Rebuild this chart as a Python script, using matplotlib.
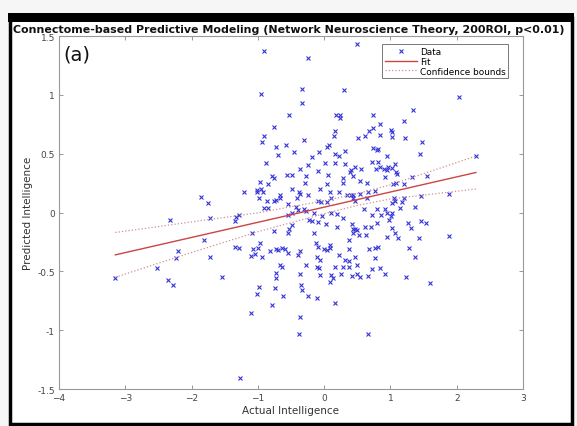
import matplotlib
matplotlib.use("Agg")
import matplotlib.pyplot as plt
from matplotlib.patches import Rectangle

# ---- data ----
data_x = [0.49, -0.90, -0.25, -0.95, -0.34, 0.30, -0.34, -0.53, 0.18, 0.24, 0.24, 0.73,
          -0.75, 0.16, 0.15, -0.90, -0.94, -0.30, -0.73, -0.58, 0.05, 0.07, 0.51, 0.61,
          0.67, 0.73, -0.70, -0.45, -0.08, -0.18, 0.16, 0.23, 0.32, 0.73, 0.79,
          2.04, 1.34, 1.20, 0.84, 1.01, 1.03, 0.85, 1.03, 1.22, 1.47, 0.81, 0.95, 1.44, 2.29,
          -1.86, -1.75, -2.32, -1.72, -1.82, -2.21, -2.23, -1.72, -2.52, -3.15, -2.36, -1.54, -2.28,
          -0.87, -0.36, -0.25, 0.02, -0.09, 0.16, 0.31, 0.46, 0.39, 0.41, 0.56, 0.72,
          -0.79, -0.76, -0.56, -0.48, -0.28, 0.06, 0.44, -0.97, -0.85, -0.29, 0.04, 0.28,
          0.29, 0.54, 0.65, -1.21, -1.01, -0.95, -0.92, -1.01, -0.67, -0.48, -0.38, -0.36,
          -0.25, -0.06, 0.09, 0.22, 0.34, 0.41, 0.44, 0.54, 0.66, 0.76, -0.98, -0.86,
          -0.76, -0.72, -0.66, -0.41, -0.09, -0.05, 0.05, 0.11, 0.43, 0.46, 0.65, -0.54,
          -0.43, -0.39, -0.90, -0.84, -0.30, -0.27, -0.49, -0.16, 0.11, 0.19, 0.28, 0.60,
          -1.29, -1.33, -1.35, -0.55, -0.23, -0.19, -0.10, 0.03, -0.03, 0.42, 0.47, 0.43,
          0.50, 0.44, 0.62, 0.70, 0.19, -0.75, -0.53, -0.55, -0.49, -1.09, -0.15, 0.37,
          0.53, 0.63, -0.97, -0.12, -0.10, 0.09, -1.34, -1.29, -1.08, -1.00, -0.82, -0.72,
          -0.69, -0.63, -0.59, -0.55, -0.36, 0.00, 0.04, 0.09, 0.37, 0.67, 0.76, -1.11,
          -1.04, -0.93, -0.40, -0.11, -0.07, 0.22, 0.32, 0.37, 0.46, 0.77, -0.66, -0.63,
          -0.27, -0.11, -0.08, 0.16, 0.29, 0.38, 0.49, -0.36, -0.72, -0.07, 0.11, 0.26,
          0.50, 0.54, 0.72,
          -0.73, -0.74, 0.14, 0.09, 0.42, 0.66, -0.99, -1.02, -0.35, -0.34, -0.62, -0.25,
          -0.11, -0.79, 0.16, -1.10, -0.37, -0.38, 0.66, -1.27,
          0.92, 1.23, 1.60,
          0.82, 0.78, 0.84, 0.90, 0.97, 1.02, 1.07, 0.95, 1.09, 1.10, 0.92, 1.33, 1.55,
          1.04, 1.09, 1.20, 1.46, 1.89, 1.05, 1.20, 1.02, 1.17, 1.07, 1.37, 1.15, 0.79,
          0.92, 0.72, 0.86, 0.95, 1.02, 1.01, 0.98, 0.79, 1.26, 1.31, 1.46, 1.53, 1.02,
          1.07, 1.12, 0.95, 1.43, 1.89, 0.82, 1.28, 1.37, 0.84]
data_y = [1.43, 1.37, 1.31, 1.01, 1.05, 1.04, 0.93, 0.83, 0.83, 0.83, 0.80, 0.83,
          0.73, 0.69, 0.65, 0.65, 0.60, 0.62, 0.56, 0.57, 0.56, 0.57, 0.63, 0.65,
          0.69, 0.72, 0.49, 0.51, 0.51, 0.47, 0.50, 0.48, 0.52, 0.55, 0.53,
          0.98, 0.87, 0.78, 0.75, 0.70, 0.68, 0.66, 0.64, 0.63, 0.60, 0.54, 0.48, 0.50, 0.48,
          0.13, 0.08, -0.06, -0.05, -0.23, -0.33, -0.39, -0.38, -0.47, -0.56, -0.57, -0.55, -0.62,
          0.42, 0.37, 0.40, 0.42, 0.35, 0.42, 0.41, 0.39, 0.34, 0.36, 0.37, 0.43,
          0.31, 0.29, 0.32, 0.32, 0.31, 0.32, 0.31, 0.26, 0.24, 0.25, 0.24, 0.25,
          0.29, 0.27, 0.25, 0.17, 0.19, 0.20, 0.17, 0.17, 0.15, 0.20, 0.17, 0.16,
          0.15, 0.20, 0.17, 0.17, 0.15, 0.15, 0.15, 0.16, 0.17, 0.18, 0.12, 0.10,
          0.10, 0.11, 0.12, 0.12, 0.10, 0.09, 0.09, 0.12, 0.12, 0.10, 0.12, 0.07,
          0.05, 0.02, 0.04, 0.04, 0.03, 0.01, 0.00, 0.00, 0.00, -0.01, -0.05, 0.03,
          -0.02, -0.04, -0.07, -0.02, -0.06, -0.07, -0.08, -0.10, -0.03, -0.10, -0.14, -0.14,
          -0.15, -0.17, -0.12, -0.12, -0.12, -0.16, -0.14, -0.17, -0.11, -0.17, -0.17, -0.23,
          -0.19, -0.19, -0.26, -0.26, -0.29, -0.28, -0.29, -0.30, -0.31, -0.30, -0.33, -0.31,
          -0.32, -0.30, -0.31, -0.34, -0.33, -0.31, -0.32, -0.30, -0.31, -0.31, -0.30, -0.37,
          -0.35, -0.38, -0.36, -0.38, -0.40, -0.36, -0.40, -0.41, -0.38, -0.39, -0.45, -0.46,
          -0.45, -0.46, -0.47, -0.46, -0.46, -0.46, -0.45, -0.52, -0.51, -0.53, -0.53, -0.52,
          -0.52, -0.55, -0.48,
          -0.56, -0.64, -0.56, -0.59, -0.54, -0.54, -0.63, -0.69, -0.62, -0.66, -0.71, -0.71,
          -0.73, -0.79, -0.77, -0.85, -0.89, -1.03, -1.03, -1.41,
          -0.52, -0.55, -0.60,
          0.43, 0.37, 0.39, 0.37, 0.39, 0.38, 0.41, 0.36, 0.34, 0.33, 0.30, 0.30, 0.31,
          0.24, 0.25, 0.24, 0.14, 0.16, 0.12, 0.12, 0.08, 0.09, 0.10, 0.05, 0.04, 0.03,
          0.03, -0.02, -0.02, 0.00, 0.00, -0.03, -0.06, -0.09, -0.09, -0.13, -0.07, -0.09, -0.13,
          -0.17, -0.22, -0.21, -0.22, -0.20, -0.29, -0.30, -0.38, -0.47]

fit_x = [-3.15, 2.29]
fit_y = [-0.36, 0.34]

bounds_x = [-3.15, -2.0, -1.0, 0.0, 0.5, 1.0, 2.29]
upper_y = [-0.17, -0.08, -0.003, 0.10, 0.16, 0.235, 0.48]
lower_y = [-0.55, -0.34, -0.163, -0.01, 0.06, 0.115, 0.20]

x_ticks = [-4, -3, -2, -1, 0, 1, 2, 3]
y_ticks = [-1.5, -1, -0.5, 0, 0.5, 1, 1.5]
y_tick_labels = ["-1.5", "-1", "-0.5", "0", "0.5", "1", "1.5"]

title = "Connectome-based Predictive Modeling (Network Neuroscience Theory, 200ROI, p<0.01)"

# ---- figure ----
W, H = 577, 427
fig = plt.figure(figsize=(W / 100, H / 100), dpi=100, facecolor="#f6f6f6")

# outer frame (white panel with black border, thicker on top)
fig.patches.append(Rectangle((9.5 / W, 1 - 424.5 / H), (572 - 9.5) / W, (424.5 - 19) / H,
                             transform=fig.transFigure, facecolor="white",
                             edgecolor="black", linewidth=2.5, zorder=-10))
fig.patches.append(Rectangle((8 / W, 1 - 23 / H), (574 - 8) / W, 9 / H,
                             transform=fig.transFigure, facecolor="black",
                             edgecolor="none", zorder=-10))

ax = fig.add_axes([59 / W, 1 - 390 / H, (523 - 59) / W, (390 - 37) / H])
ax.set_zorder(5)
ax.set_facecolor("white")

ax.plot(data_x, data_y, linestyle="none", marker="x", color="#3434d8",
        markersize=3.5, markeredgewidth=0.8, label="Data")
ax.plot(fit_x, fit_y, color="#cc4444", linewidth=1.0, label="Fit")
ax.plot(bounds_x, upper_y, color="#d09090", linestyle=":", linewidth=0.9,
        label="Confidence bounds")
ax.plot(bounds_x, lower_y, color="#d09090", linestyle=":", linewidth=0.9)

ax.set_xlim(-4, 3)
ax.set_ylim(-1.5, 1.5)
ax.set_xticks(x_ticks)
ax.set_yticks(y_ticks)
ax.set_yticklabels(y_tick_labels)
ax.tick_params(direction="in", length=3, width=0.6, colors="#888888",
               labelcolor="#444444", labelsize=6.5, top=True, right=True, pad=3)
for s in ax.spines.values():
    s.set_color("#999999")
    s.set_linewidth(0.8)

ax.set_xlabel("Actual Intelligence", fontsize=7.5, color="#333333", labelpad=2)
ax.set_ylabel("Predicted Intelligence", fontsize=7.5, color="#333333", labelpad=3)

fig.text(0.5, 1 - 30 / H, title, ha="center", va="center", fontsize=7.9,
         fontweight="bold", color="#111111", zorder=10)

ax.text(0.01, 0.975, "(a)", transform=ax.transAxes, ha="left", va="top",
        fontsize=14, color="#111111")

leg = ax.legend(loc="upper right", bbox_to_anchor=(0.968, 0.977), fontsize=6.4,
                frameon=True, fancybox=False, borderaxespad=0.0, handlelength=3.6,
                handletextpad=0.3, labelspacing=0.1, borderpad=0.3)
leg.get_frame().set_edgecolor("#555555")
leg.get_frame().set_linewidth(0.7)

fig.savefig("out.png", dpi=100, facecolor=fig.get_facecolor())
